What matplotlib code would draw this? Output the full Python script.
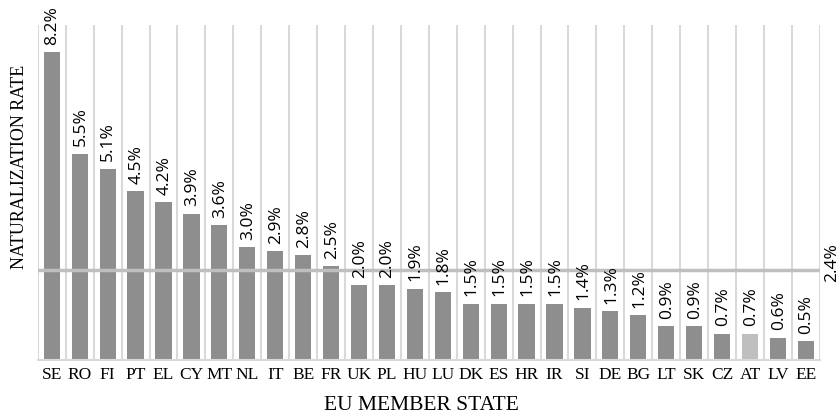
import matplotlib.pyplot as plt

states = ['SE', 'RO', 'FI', 'PT', 'EL', 'CY', 'MT', 'NL', 'IT', 'BE', 'FR', 'UK', 'PL', 'HU',
          'LU', 'DK', 'ES', 'HR', 'IR', 'SI', 'DE', 'BG', 'LT', 'SK', 'CZ', 'AT', 'LV', 'EE']
rates = [8.2, 5.5, 5.1, 4.5, 4.2, 3.9, 3.6, 3.0, 2.9, 2.8, 2.5, 2.0, 2.0, 1.9,
         1.8, 1.5, 1.5, 1.5, 1.5, 1.4, 1.3, 1.2, 0.9, 0.9, 0.7, 0.7, 0.6, 0.5]
eu_average = 2.4
highlight = 'AT'

fig = plt.figure(figsize=(8.4, 4.14), dpi=100)
ax = fig.add_axes([0.045, 0.128, 0.931, 0.809])

x = list(range(len(states)))
colors = ['#bfbfbf' if s == highlight else '#8e8e8e' for s in states]

# category separators
for i in range(len(states) + 1):
    ax.axvline(i - 0.5, color='#d9d9d9', lw=1.5, zorder=0)

ax.bar(x, rates, width=0.58, color=colors, zorder=2)
ax.axhline(eu_average, color='#bfbfbf', lw=2.5, zorder=3)

for xi, v in zip(x, rates):
    ax.annotate(f'{v:.1f}%', (xi, v), xytext=(0.5, 6), textcoords='offset points',
                rotation=90, ha='center', va='bottom', fontsize=12.5,
                family='Open Sans', zorder=4)
ax.annotate(f'{eu_average:.1f}%', (len(states) - 0.5, eu_average), xytext=(9, -8),
            textcoords='offset points', rotation=90, ha='center', va='bottom',
            fontsize=12.5, family='Open Sans', annotation_clip=False)

ax.set_xlim(-0.5, len(states) - 0.5)
ax.set_ylim(0, 8.93)
ax.set_xticks(x)
ax.set_xticklabels(states, family='Liberation Serif', fontsize=12.5)
ax.set_yticks([])
ax.tick_params(axis='x', length=0, pad=4)
for s in ['left', 'top', 'right']:
    ax.spines[s].set_visible(False)
ax.spines['bottom'].set_color('#d9d9d9')
ax.spines['bottom'].set_linewidth(1.5)

ax.set_xlabel('EU MEMBER STATE', family='Liberation Serif', fontsize=15.5, va='baseline')
ax.set_ylabel('NATURALIZATION RATE', family='Liberation Serif', fontsize=13)
ax.xaxis.set_label_coords(0.49, -0.146)
ax.yaxis.set_label_coords(-0.012, 0.58)

fig.savefig('out.png', dpi=100)
